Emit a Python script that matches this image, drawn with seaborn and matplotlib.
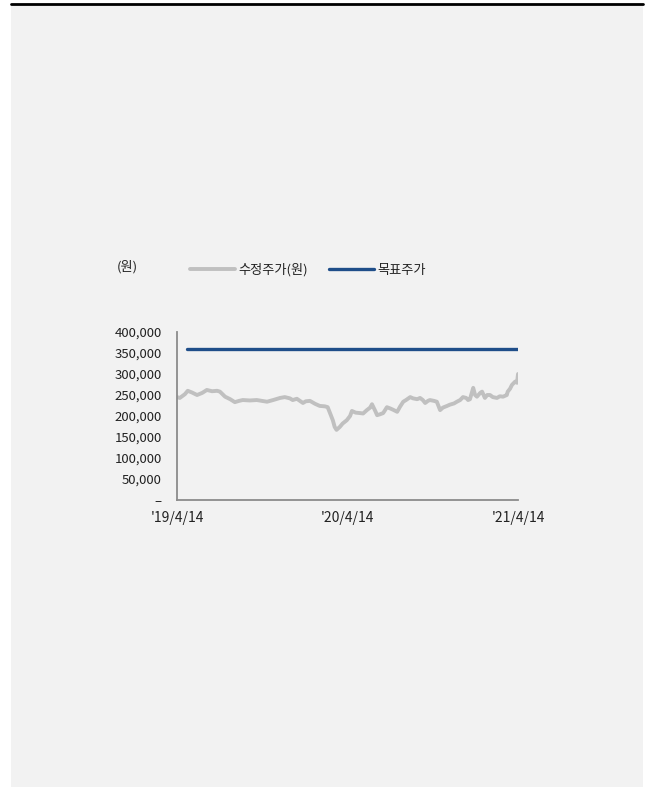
import matplotlib
matplotlib.use("Agg")
import matplotlib.pyplot as plt
from matplotlib.patches import Rectangle
from matplotlib.lines import Line2D
import seaborn as sns
import pandas as pd

price_dates = [
    "2019-04-14", "2019-04-20", "2019-05-01", "2019-05-07", "2019-05-16", "2019-05-27",
    "2019-06-07", "2019-06-17", "2019-06-28", "2019-07-09", "2019-07-15", "2019-07-26",
    "2019-08-06", "2019-08-16", "2019-08-25", "2019-09-02", "2019-09-17", "2019-10-02",
    "2019-10-13", "2019-10-24", "2019-11-06", "2019-11-21", "2019-12-01", "2019-12-12",
    "2019-12-18", "2019-12-27", "2020-01-09", "2020-01-15", "2020-01-24", "2020-02-04",
    "2020-02-14", "2020-02-25", "2020-03-02", "2020-03-07", "2020-03-13", "2020-03-17",
    "2020-03-21", "2020-03-28", "2020-04-03", "2020-04-12", "2020-04-19", "2020-04-23",
    "2020-05-01", "2020-05-10", "2020-05-17", "2020-05-25", "2020-06-01", "2020-06-05",
    "2020-06-12", "2020-06-16", "2020-06-22", "2020-06-29", "2020-07-07", "2020-07-14",
    "2020-07-20", "2020-07-29", "2020-08-04", "2020-08-11", "2020-08-17", "2020-08-26",
    "2020-09-01", "2020-09-10", "2020-09-16", "2020-09-22", "2020-09-27", "2020-10-03",
    "2020-10-07", "2020-10-16", "2020-10-22", "2020-10-29", "2020-11-04", "2020-11-13",
    "2020-11-19", "2020-11-28", "2020-12-04", "2020-12-11", "2020-12-17", "2020-12-24",
    "2020-12-28", "2021-01-01", "2021-01-08", "2021-01-12", "2021-01-16", "2021-01-23",
    "2021-01-27", "2021-01-31", "2021-02-02", "2021-02-07", "2021-02-13", "2021-02-19",
    "2021-02-28", "2021-03-06", "2021-03-13", "2021-03-17", "2021-03-21", "2021-03-23",
    "2021-03-28", "2021-04-01", "2021-04-08", "2021-04-12", "2021-04-14",
]
price_values = [
    245000, 243000, 252000, 260000, 256000, 250000,
    255000, 262000, 259000, 260000, 258000, 246000,
    240000, 233000, 236000, 238000, 237000, 238000,
    236000, 234000, 238000, 243000, 245000, 242000,
    238000, 241000, 231000, 235000, 236000, 229000,
    224000, 223000, 221000, 207000, 190000, 174000,
    167000, 174000, 182000, 190000, 200000, 212000,
    208000, 207000, 206000, 214000, 220000, 228000,
    212000, 202000, 204000, 207000, 221000, 218000,
    215000, 210000, 222000, 234000, 238000, 245000,
    242000, 240000, 243000, 238000, 231000, 236000,
    238000, 236000, 234000, 214000, 220000, 224000,
    227000, 230000, 234000, 238000, 245000, 243000,
    238000, 240000, 267000, 250000, 246000, 255000,
    258000, 248000, 243000, 250000, 250000, 245000,
    243000, 247000, 246000, 248000, 250000, 258000,
    265000, 274000, 282000, 279000, 300000,
]
target_dates = ["2019-05-05", "2021-04-14"]
target_values = [360000, 360000]

series_names = ["수정주가(원)", "목표주가"]
y_ticks = [0, 50000, 100000, 150000, 200000, 250000, 300000, 350000, 400000]
y_labels = ["–", "50,000", "100,000", "150,000", "200,000", "250,000", "300,000", "350,000", "400,000"]
x_ticks = ["2019-04-14", "2020-04-14", "2021-04-14"]
x_labels = ["'19/4/14", "'20/4/14", "'21/4/14"]
unit_label = "(원)"

sns.set_style("white")
plt.rcParams["font.family"] = ["Noto Sans CJK KR", "DejaVu Sans"]

W, H = 645, 787
FS = 9.5
fig = plt.figure(figsize=(W / 100, H / 100), dpi=100, facecolor="white")

# background panel and top rule
fig.patches.append(Rectangle((11 / W, 0), (643 - 11) / W, 1 - 5 / H,
                             transform=fig.transFigure, facecolor="#f2f2f2",
                             edgecolor="none", zorder=-10))
fig.lines.append(Line2D([11 / W, 643 / W], [1 - 4 / H, 1 - 4 / H],
                        transform=fig.transFigure, color="black", linewidth=2))

ax = fig.add_axes([177 / W, 1 - 500 / H, (518 - 177) / W, (500 - 332) / H])
ax.set_facecolor("none")

price_df = pd.DataFrame({"date": pd.to_datetime(price_dates), "value": price_values})
target_df = pd.DataFrame({"date": pd.to_datetime(target_dates), "value": target_values})

sns.lineplot(data=price_df, x="date", y="value", ax=ax, color="#c0c0c0",
             linewidth=2.8, label=series_names[0])
sns.lineplot(data=target_df, x="date", y="value", ax=ax, color="#1f4e89",
             linewidth=2.4, label=series_names[1])

ax.set_xlim(pd.Timestamp(x_ticks[0]), pd.Timestamp(x_ticks[-1]))
ax.set_ylim(0, 400000)
ax.set_yticks(y_ticks)
ax.set_yticklabels(y_labels)
ax.set_xticks(pd.to_datetime(x_ticks))
ax.set_xticklabels(x_labels)
ax.set_xlabel("")
ax.set_ylabel("")

for s in ["top", "right"]:
    ax.spines[s].set_visible(False)
for s in ["left", "bottom"]:
    ax.spines[s].set_color("#8c8c8c")
    ax.spines[s].set_linewidth(1.3)

ax.tick_params(axis="y", direction="out", length=3, width=1, color="#8c8c8c",
               labelsize=FS, labelcolor="#222222", pad=8)
ax.tick_params(axis="x", direction="out", length=3, width=1, color="#8c8c8c",
               labelsize=FS, labelcolor="#222222", pad=5)
for lab in ax.get_xticklabels():
    lab.set_fontsize(10)

leg = ax.legend(loc="center left", bbox_to_anchor=(190 / W, 1 - 270 / H),
                bbox_transform=fig.transFigure, ncol=2, frameon=False,
                fontsize=FS, handlelength=3.4, handletextpad=0.3,
                columnspacing=1.55, borderpad=0, borderaxespad=0)
for t in leg.get_texts():
    t.set_color("#222222")

fig.text(117 / W, 1 - 267 / H, unit_label, fontsize=FS, color="#222222",
         ha="left", va="center")

fig.savefig("out.png", dpi=100, facecolor="white")
